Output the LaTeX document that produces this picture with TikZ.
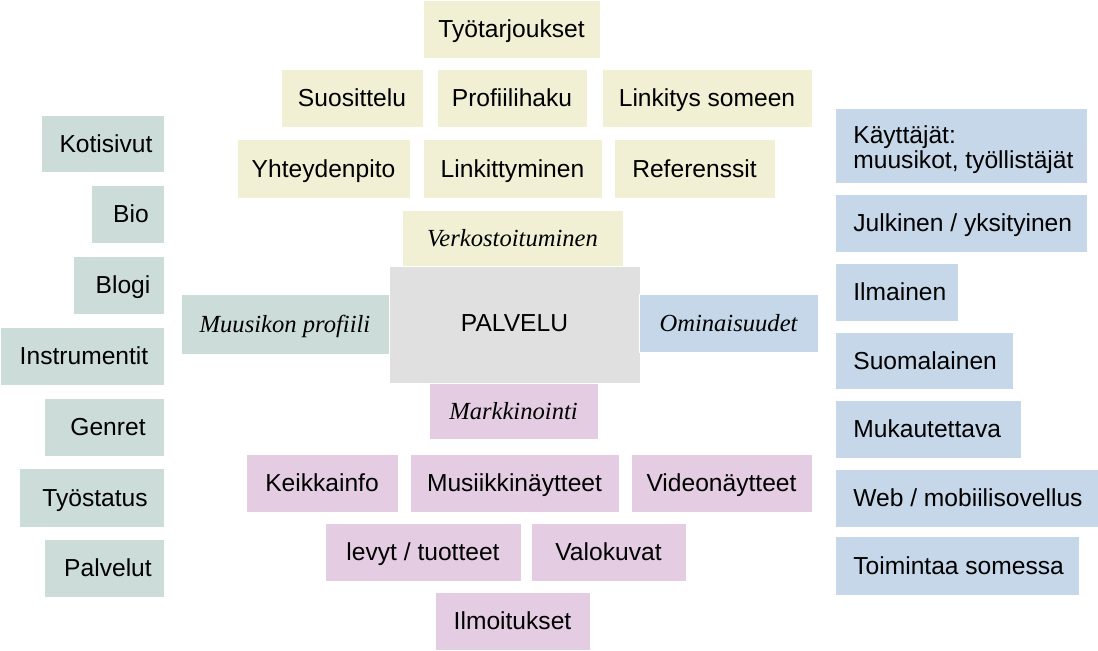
\documentclass[tikz,border=0pt]{standalone}
\usepackage{fontspec}
\setmainfont{Liberation Sans}
\newfontfamily\kursiivi{Liberation Serif}

\definecolor{keltainen}{RGB}{242,240,212}
\definecolor{vihrea}{RGB}{204,221,217}
\definecolor{sininen}{RGB}{197,215,232}
\definecolor{pinkki}{RGB}{228,204,226}
\definecolor{harmaa}{RGB}{224,224,224}

\begin{document}
\begin{tikzpicture}[x=0.02cm, y=-0.02cm,
    every node/.style={inner sep=0pt, font=\fontsize{14}{16}\selectfont},
    kelt/.style={fill=keltainen, draw=white, line width=0.4pt},
    vihr/.style={fill=vihrea, draw=white, line width=0.4pt},
    sini/.style={fill=sininen, draw=white, line width=0.4pt},
    pink/.style={fill=pinkki, draw=white, line width=0.4pt},
    harm/.style={fill=harmaa, draw=white, line width=0.4pt},
    otsikko/.style={font=\kursiivi\itshape\fontsize{14}{16}\selectfont}]

  \useasboundingbox (0,0) rectangle (1098,650);

  % verkostoituminen
    \fill[kelt] (423,0) rectangle (600,58);
    \node[anchor=base] (tyotarj) at (511.5,37.5) {Työtarjoukset};
    \fill[kelt] (281,69) rectangle (423,127);
    \node[anchor=base] (suos) at (352,106.5) {Suosittelu};
    \fill[kelt] (437,69) rectangle (587,127);
    \node[anchor=base] (profhaku) at (512,106.5) {Profiilihaku};
    \fill[kelt] (602,69) rectangle (812,127);
    \node[anchor=base] (linksome) at (707,106.5) {Linkitys someen};
    \fill[kelt] (237,139) rectangle (410,198);
    \node[anchor=base] (yhteys) at (323.5,177) {Yhteydenpito};
    \fill[kelt] (423,139) rectangle (602,198);
    \node[anchor=base] (linkit) at (512.5,177) {Linkittyminen};
    \fill[kelt] (614,139) rectangle (775,198);
    \node[anchor=base] (refe) at (694.5,177) {Referenssit};
    \fill[kelt] (402,210) rectangle (623,266);
    \node[otsikko, anchor=base] (verkosto) at (512.5,246) {Verkostoituminen};

  % keskusta
    \fill[harm] (389,266) rectangle (640,383);
    \node[anchor=base] (palvelu) at (514.5,331) {PALVELU};
    \fill[vihr] (181,294) rectangle (389,354);
    \node[otsikko, anchor=base] (profiili) at (285,332) {Muusikon profiili};
    \fill[sini] (639,294) rectangle (818,352);
    \node[otsikko, anchor=base] (ominais) at (728.5,331) {Ominaisuudet};
    \fill[pink] (429,383) rectangle (598,439);
    \node[otsikko, anchor=base] (markk) at (513.5,419) {Markkinointi};

  % markkinointi
    \fill[pink] (246,454) rectangle (398,512);
    \node[anchor=base] (keikka) at (322,491.5) {Keikkainfo};
    \fill[pink] (410,454) rectangle (619,512);
    \node[anchor=base] (musnayt) at (514.5,491.5) {Musiikkinäytteet};
    \fill[pink] (631,454) rectangle (812,512);
    \node[anchor=base] (vidnayt) at (721.5,491.5) {Videonäytteet};
    \fill[pink] (325,523) rectangle (521,581);
    \node[anchor=base] (levyt) at (423,560.5) {levyt / tuotteet};
    \fill[pink] (531,523) rectangle (686,581);
    \node[anchor=base] (valok) at (608.5,560.5) {Valokuvat};
    \fill[pink] (435,592) rectangle (590,650);
    \node[anchor=base] (ilmoit) at (512.5,629.5) {Ilmoitukset};

  % profiili
    \fill[vihr] (41,115) rectangle (164,172);
    \node[anchor=base] (koti) at (106,152) {Kotisivut};
    \fill[vihr] (91,185) rectangle (164,243);
    \node[anchor=base] (bio) at (131,222.5) {Bio};
    \fill[vihr] (73,256) rectangle (164,314);
    \node[anchor=base] (blogi) at (123,293.5) {Blogi};
    \fill[vihr] (0,327) rectangle (164,385);
    \node[anchor=base] (instr) at (84,364.5) {Instrumentit};
    \fill[vihr] (44,398) rectangle (164,456);
    \node[anchor=base] (genret) at (108,435.5) {Genret};
    \fill[vihr] (19,468) rectangle (164,527);
    \node[anchor=base] (tyostat) at (95,506) {Työstatus};
    \fill[vihr] (44,539) rectangle (164,597);
    \node[anchor=base] (palvelut) at (108,576.5) {Palvelut};

  % ominaisuudet
    \fill[sini] (835,108) rectangle (1087,183);
    \node[anchor=base west, align=left, font=\fontsize{14}{14.2}\selectfont] (kayttajat) at (853,168)
      {Käyttäjät:\\muusikot, työllistäjät};
    \fill[sini] (835,194) rectangle (1087,252);
    \node[anchor=base west] (julk) at (853,231.5) {Julkinen / yksityinen};
    \fill[sini] (835,263) rectangle (958,321);
    \node[anchor=base west] (ilmainen) at (853,300.5) {Ilmainen};
    \fill[sini] (835,332) rectangle (1013,389);
    \node[anchor=base west] (suomi) at (853,369) {Suomalainen};
    \fill[sini] (835,400) rectangle (1021,458);
    \node[anchor=base west] (mukaut) at (853,437.5) {Mukautettava};
    \fill[sini] (835,469) rectangle (1098,527);
    \node[anchor=base west] (webmob) at (853,506.5) {Web / mobiilisovellus};
    \fill[sini] (835,536) rectangle (1079,595);
    \node[anchor=base west] (somessa) at (853,574) {Toimintaa somessa};

\end{tikzpicture}
\end{document}
